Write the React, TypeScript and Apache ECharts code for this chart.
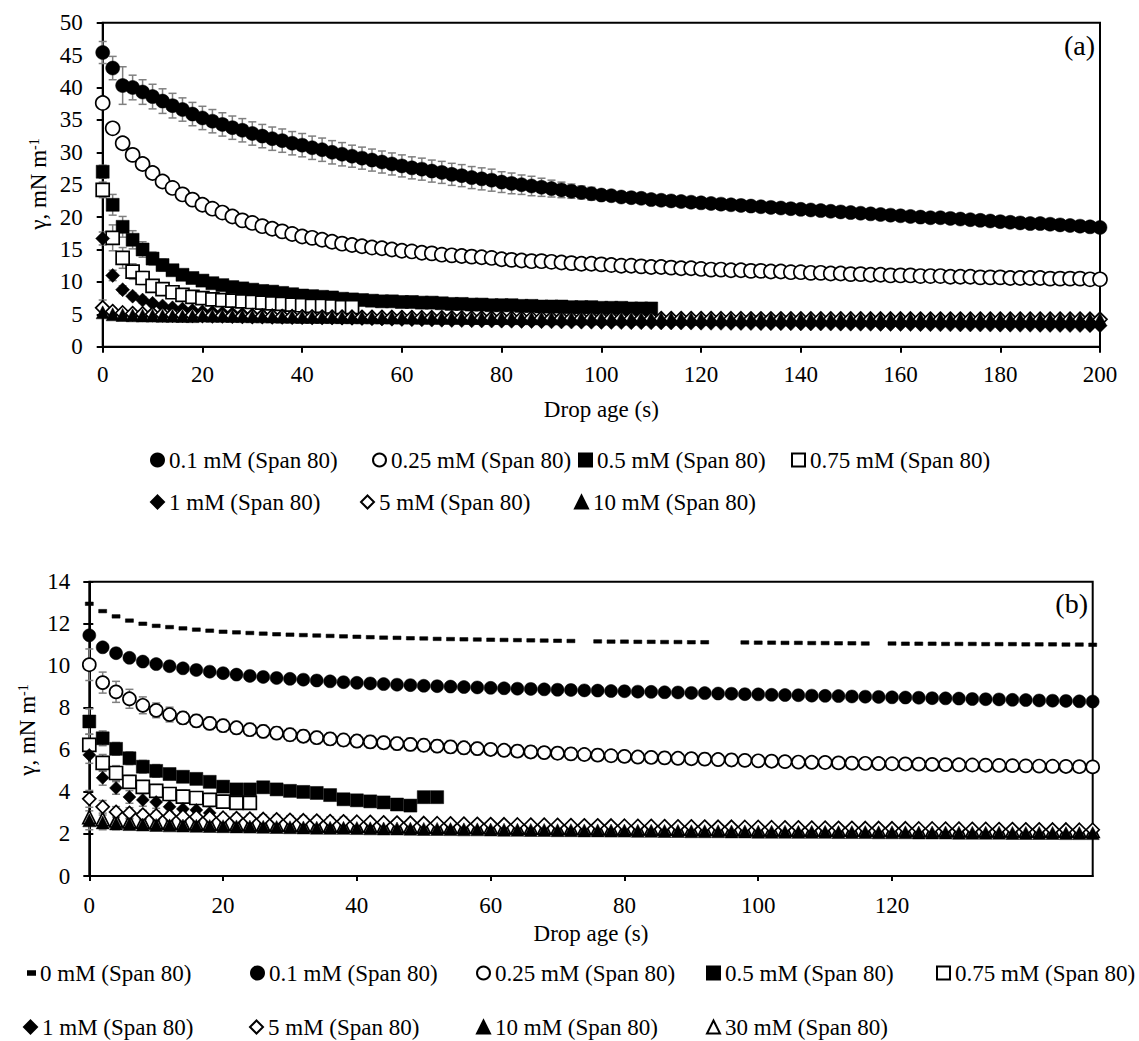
import React, { useEffect, useRef } from "react";
import * as echarts from "echarts";

const FONT = "'Liberation Serif', 'Times New Roman', Times, serif";
const ERR_COLOR = "#808080";

// ---------------- Panel (a) ----------------
const timeA = [
  0, 2, 4, 6, 8, 10, 12, 14, 16, 18,
  20, 22, 24, 26, 28, 30, 32, 34, 36, 38,
  40, 42, 44, 46, 48, 50, 52, 54, 56, 58,
  60, 62, 64, 66, 68, 70, 72, 74, 76, 78,
  80, 82, 84, 86, 88, 90, 92, 94, 96, 98,
  100, 102, 104, 106, 108, 110, 112, 114, 116, 118,
  120, 122, 124, 126, 128, 130, 132, 134, 136, 138,
  140, 142, 144, 146, 148, 150, 152, 154, 156, 158,
  160, 162, 164, 166, 168, 170, 172, 174, 176, 178,
  180, 182, 184, 186, 188, 190, 192, 194, 196, 198,
  200,
];
const xTicksA = [0, 20, 40, 60, 80, 100, 120, 140, 160, 180, 200];
const yTicksA = [0, 5, 10, 15, 20, 25, 30, 35, 40, 45, 50];

const a01 = [
  45.4, 43.0, 40.3, 40.0, 39.3, 38.6, 37.9, 37.2, 36.6, 35.9,
  35.3, 34.8, 34.3, 33.8, 33.4, 32.9, 32.5, 32.1, 31.8, 31.4,
  31.1, 30.7, 30.4, 30.0, 29.7, 29.4, 29.1, 28.8, 28.5, 28.2,
  27.9, 27.6, 27.4, 27.1, 26.9, 26.6, 26.4, 26.1, 25.9, 25.7,
  25.4, 25.2, 25.0, 24.8, 24.6, 24.4, 24.2, 24.0, 23.8, 23.6,
  23.4, 23.3, 23.1, 23.0, 22.9, 22.7, 22.6, 22.5, 22.4, 22.3,
  22.2, 22.1, 22.0, 21.9, 21.8, 21.7, 21.6, 21.5, 21.4, 21.3,
  21.2, 21.1, 21.0, 20.9, 20.8, 20.7, 20.6, 20.5, 20.4, 20.3,
  20.2, 20.1, 20.0, 19.9, 19.9, 19.8, 19.7, 19.6, 19.5, 19.4,
  19.3, 19.2, 19.1, 19.0, 19.0, 18.9, 18.8, 18.7, 18.6, 18.5,
  18.4,
];
const a025 = [
  37.6, 33.7, 31.4, 29.6, 28.2, 26.8, 25.5, 24.5, 23.5, 22.7,
  21.9, 21.3, 20.7, 20.1, 19.5, 19.1, 18.6, 18.2, 17.8, 17.4,
  17.0, 16.8, 16.5, 16.2, 15.9, 15.7, 15.5, 15.3, 15.2, 15.0,
  14.8, 14.7, 14.5, 14.4, 14.2, 14.1, 14.0, 13.9, 13.8, 13.7,
  13.5, 13.4, 13.3, 13.2, 13.2, 13.1, 13.0, 12.9, 12.8, 12.8,
  12.7, 12.6, 12.5, 12.5, 12.4, 12.3, 12.3, 12.2, 12.1, 12.1,
  12.0, 11.9, 11.9, 11.8, 11.8, 11.7, 11.7, 11.6, 11.6, 11.5,
  11.5, 11.4, 11.4, 11.3, 11.3, 11.2, 11.2, 11.1, 11.1, 11.0,
  11.0, 11.0, 10.9, 10.9, 10.9, 10.8, 10.8, 10.8, 10.7, 10.7,
  10.7, 10.6, 10.6, 10.6, 10.6, 10.5, 10.5, 10.5, 10.5, 10.4,
  10.4,
];
const a05 = [
  27.0, 21.9, 18.5, 16.5, 15.0, 13.6, 12.6, 11.8, 11.1, 10.6,
  10.2, 9.8, 9.5, 9.2, 9.0, 8.8, 8.6, 8.5, 8.3, 8.1,
  7.9, 7.8, 7.7, 7.6, 7.4, 7.3, 7.2, 7.1, 7.0, 7.0,
  6.9, 6.9, 6.8, 6.8, 6.7, 6.6, 6.6, 6.5, 6.5, 6.4,
  6.4, 6.4, 6.3, 6.3, 6.2, 6.2, 6.2, 6.1, 6.1, 6.1,
  6.0, 6.0, 6.0, 5.9, 5.9, 5.9,
];
const a075 = [
  24.2, 16.8, 13.7, 11.6, 10.6, 9.4, 8.9, 8.4, 8.0, 7.7,
  7.5, 7.3, 7.2, 7.1, 7.0, 6.9, 6.8, 6.7, 6.6, 6.5,
  6.4, 6.3, 6.3, 6.2, 6.1, 6.1,
];
const a1 = [
  16.7, 11.0, 8.8, 7.8, 7.2, 6.7, 6.3, 6.0, 5.8, 5.6,
  5.4, 5.3, 5.2, 5.1, 5.0, 4.9, 4.85, 4.8, 4.75, 4.7,
  4.65, 4.6, 4.55, 4.5, 4.45, 4.4, 4.36, 4.32, 4.28, 4.24,
  4.2, 4.17, 4.14, 4.11, 4.08, 4.05, 4.03, 4.0, 3.98, 3.96,
  3.94, 3.92, 3.9, 3.88, 3.86, 3.84, 3.82, 3.8, 3.78, 3.77,
  3.75, 3.74, 3.72, 3.71, 3.7, 3.68, 3.67, 3.66, 3.65, 3.64,
  3.62, 3.61, 3.6, 3.59, 3.58, 3.57, 3.56, 3.55, 3.54, 3.53,
  3.52, 3.51, 3.5, 3.49, 3.48, 3.47, 3.46, 3.45, 3.44, 3.43,
  3.42, 3.41, 3.4, 3.39, 3.38, 3.37, 3.36, 3.35, 3.34, 3.33,
  3.32, 3.31, 3.3, 3.3, 3.29, 3.28, 3.27, 3.26, 3.26, 3.25,
  3.25,
];
const a5 = [
  6.0, 5.4, 5.2, 5.1, 5.05, 5.0, 4.97, 4.94, 4.91, 4.88,
  4.85, 4.82, 4.79, 4.76, 4.73, 4.7, 4.68, 4.66, 4.64, 4.62,
  4.6, 4.58, 4.57, 4.56, 4.55, 4.54, 4.53, 4.52, 4.51, 4.5,
  4.49, 4.48, 4.47, 4.46, 4.45, 4.45, 4.44, 4.43, 4.42, 4.42,
  4.41, 4.4, 4.4, 4.39, 4.39, 4.38, 4.38, 4.37, 4.37, 4.36,
  4.36, 4.35, 4.35, 4.35, 4.34, 4.34, 4.33, 4.33, 4.33, 4.32,
  4.32, 4.32, 4.31, 4.31, 4.31, 4.3, 4.3, 4.3, 4.3, 4.29,
  4.29, 4.29, 4.29, 4.28, 4.28, 4.28, 4.28, 4.27, 4.27, 4.27,
  4.27, 4.27, 4.26, 4.26, 4.26, 4.26, 4.26, 4.25, 4.25, 4.25,
  4.25, 4.25, 4.25, 4.24, 4.24, 4.24, 4.24, 4.24, 4.24, 4.23,
  4.23,
];
const a10 = [
  5.3, 5.0, 4.9, 4.85, 4.82, 4.8, 4.78, 4.76, 4.74, 4.72,
  4.8, 4.78, 4.76, 4.74, 4.72, 4.7, 4.68, 4.66, 4.64, 4.62,
  4.6, 4.59, 4.58, 4.57, 4.56, 4.55, 4.54, 4.53, 4.52, 4.51,
  4.5, 4.49, 4.48, 4.47, 4.46, 4.46, 4.45, 4.44, 4.43, 4.43,
  4.42, 4.41, 4.41, 4.4, 4.4, 4.39, 4.39, 4.38, 4.38, 4.37,
  4.37, 4.36, 4.36, 4.36, 4.35, 4.35, 4.34, 4.34, 4.34, 4.33,
  4.33, 4.33, 4.32, 4.32, 4.32, 4.31, 4.31, 4.31, 4.31, 4.3,
  4.3, 4.3, 4.3, 4.29, 4.29, 4.29, 4.29, 4.28, 4.28, 4.28,
  4.28, 4.28, 4.27, 4.27, 4.27, 4.27, 4.27, 4.26, 4.26, 4.26,
  4.26, 4.26, 4.26, 4.25, 4.25, 4.25, 4.25, 4.25, 4.25, 4.24,
  4.24,
];
// error bars (+/-), panel (a)
const eA01 = [
  1.7, 1.8, 2.9, 1.9, 1.9, 1.9, 1.9, 1.9, 1.8, 1.8,
  1.8, 1.8, 1.8, 1.8, 1.8, 1.8, 1.8, 1.8, 1.8, 1.8,
  1.8, 1.8, 1.8, 1.8, 1.8, 1.7, 1.7, 1.7, 1.7, 1.7,
  1.7, 1.7, 1.7, 1.7, 1.7, 1.7, 1.7, 1.7, 1.7, 1.7,
  1.6, 1.6, 1.5, 1.5, 1.4, 1.3, 1.2, 1.1, 1.0, 1.0,
];
const eA05 = [1.0, 1.6, 1.6, 1.4, 1.2, 1.0, 0.9, 0.8, 0.7, 0.7, 0.6, 0.6, 0.5, 0.5, 0.5, 0.5, 0.5, 0.5, 0.5, 0.5];
const eA075 = [1.2, 2.0, 1.6, 1.2, 1.0, 0.8, 0.7, 0.6, 0.6, 0.5, 0.5, 0.5, 0.5, 0.5, 0.5, 0.5, 0.5, 0.5, 0.5, 0.5, 0.5, 0.5, 0.5, 0.5, 0.5, 0.5];
const eA1 = [1.0, 0.8, 0.6, 0.5, 0.5, 0.4, 0.4, 0.4, 0.4, 0.4];
const eA5 = [1.2, 0.6, 0.5, 0.4, 0.4];
const eA10 = [0.5, 0.4, 0.3, 0.3, 0.3];

// ---------------- Panel (b) ----------------
const timeB = [
  0, 2, 4, 6, 8, 10, 12, 14, 16, 18,
  20, 22, 24, 26, 28, 30, 32, 34, 36, 38,
  40, 42, 44, 46, 48, 50, 52, 54, 56, 58,
  60, 62, 64, 66, 68, 70, 72, 74, 76, 78,
  80, 82, 84, 86, 88, 90, 92, 94, 96, 98,
  100, 102, 104, 106, 108, 110, 112, 114, 116, 118,
  120, 122, 124, 126, 128, 130, 132, 134, 136, 138,
  140, 142, 144, 146, 148, 150,
];
const xTicksB = [0, 20, 40, 60, 80, 100, 120, 140];
const yTicksB = [0, 2, 4, 6, 8, 10, 12, 14];

const b0 = [
  12.95, 12.6, 12.35, 12.15, 12.0, 11.9, 11.84, 11.78, 11.72, 11.67,
  11.62, 11.59, 11.56, 11.53, 11.5, 11.48, 11.46, 11.44, 11.42, 11.4,
  11.38, 11.36, 11.34, 11.33, 11.31, 11.3, 11.28, 11.27, 11.26, 11.25,
  11.24, 11.23, 11.22, 11.21, 11.2, 11.19, 11.18, null, 11.16, 11.15,
  11.15, 11.14, 11.14, 11.13, 11.13, 11.12, 11.12, null, null, 11.11,
  11.1, 11.1, 11.09, 11.09, 11.08, 11.08, 11.07, 11.07, 11.06, null,
  11.06, 11.05, 11.05, 11.05, 11.04, 11.04, 11.04, 11.03, 11.03, 11.03,
  11.02, 11.02, 11.02, 11.01, 11.01, 11.0,
];
const b01 = [
  11.45, 10.88, 10.6, 10.38, 10.2, 10.08, 9.98, 9.88, 9.8, 9.72,
  9.65, 9.58, 9.52, 9.47, 9.42, 9.38, 9.34, 9.3, 9.26, 9.22,
  9.19, 9.16, 9.13, 9.1, 9.08, 9.05, 9.03, 9.01, 8.99, 8.97,
  8.95, 8.93, 8.91, 8.9, 8.88, 8.86, 8.85, 8.83, 8.82, 8.8,
  8.79, 8.77, 8.76, 8.74, 8.73, 8.71, 8.7, 8.68, 8.67, 8.65,
  8.64, 8.62, 8.61, 8.6, 8.58, 8.57, 8.56, 8.54, 8.53, 8.52,
  8.5, 8.49, 8.48, 8.46, 8.45, 8.44, 8.42, 8.41, 8.4, 8.38,
  8.37, 8.35, 8.34, 8.33, 8.31, 8.3,
];
const b025 = [
  10.05, 9.2, 8.76, 8.43, 8.12, 7.88, 7.68, 7.52, 7.38, 7.26,
  7.15, 7.05, 6.96, 6.88, 6.8, 6.72, 6.65, 6.58, 6.52, 6.47,
  6.42, 6.38, 6.34, 6.3, 6.26, 6.22, 6.18, 6.14, 6.1, 6.06,
  6.02, 5.98, 5.94, 5.9, 5.87, 5.84, 5.81, 5.78, 5.75, 5.72,
  5.69, 5.66, 5.64, 5.62, 5.6, 5.58, 5.56, 5.54, 5.52, 5.5,
  5.48, 5.46, 5.44, 5.42, 5.41, 5.4, 5.38, 5.37, 5.36, 5.35,
  5.34, 5.33, 5.32, 5.31, 5.3, 5.29, 5.28, 5.27, 5.26, 5.25,
  5.24, 5.23, 5.22, 5.21, 5.2, 5.19,
];
const b05 = [
  7.35, 6.55, 6.05, 5.6, 5.2, 5.0, 4.85, 4.72, 4.62, 4.48,
  4.25, 4.12, 4.12, 4.22, 4.12, 4.05, 4.0, 3.95, 3.85, 3.65,
  3.6, 3.55, 3.5, 3.4, 3.35, 3.75, 3.75,
];
const b075 = [6.24, 5.38, 4.9, 4.48, 4.24, 4.05, 3.9, 3.78, 3.71, 3.62, 3.54, 3.48, 3.48];
const b1 = [5.76, 4.67, 4.19, 3.76, 3.62, 3.52, 3.29, 3.19, 3.14, 3.0];
const b5 = [
  3.67, 3.29, 3.05, 3.0, 2.92, 2.88, 2.85, 2.83, 2.81, 2.79,
  2.77, 2.75, 2.73, 2.71, 2.69, 2.67, 2.65, 2.63, 2.61, 2.6,
  2.58, 2.57, 2.55, 2.54, 2.53, 2.52, 2.51, 2.5, 2.49, 2.48,
  2.47, 2.46, 2.45, 2.44, 2.44, 2.43, 2.42, 2.41, 2.41, 2.4,
  2.39, 2.38, 2.38, 2.37, 2.36, 2.36, 2.35, 2.34, 2.34, 2.33,
  2.33, 2.32, 2.31, 2.31, 2.3, 2.3, 2.29, 2.29, 2.28, 2.28,
  2.27, 2.27, 2.26, 2.26, 2.25, 2.25, 2.24, 2.24, 2.23, 2.23,
  2.22, 2.22, 2.21, 2.21, 2.2, 2.2,
];
const b10 = [
  2.65, 2.55, 2.5, 2.47, 2.45, 2.43, 2.41, 2.4, 2.39, 2.38,
  2.37, 2.36, 2.35, 2.34, 2.33, 2.32, 2.31, 2.3, 2.29, 2.29,
  2.28, 2.27, 2.26, 2.26, 2.25, 2.24, 2.24, 2.23, 2.22, 2.22,
  2.21, 2.2, 2.2, 2.19, 2.19, 2.18, 2.18, 2.17, 2.17, 2.16,
  2.16, 2.15, 2.15, 2.14, 2.14, 2.13, 2.13, 2.13, 2.12, 2.12,
  2.11, 2.11, 2.11, 2.1, 2.1, 2.1, 2.09, 2.09, 2.09, 2.08,
  2.08, 2.08, 2.07, 2.07, 2.07, 2.06, 2.06, 2.06, 2.06, 2.05,
  2.05, 2.05, 2.05, 2.04, 2.04, 2.04,
];
const b30 = [
  2.8, 2.7, 2.64, 2.6, 2.57, 2.55, 2.53, 2.52, 2.5, 2.49,
  2.48, 2.47, 2.46, 2.45, 2.44, 2.43, 2.42, 2.41, 2.4, 2.4,
  2.39, 2.38, 2.37, 2.37, 2.36, 2.35, 2.35, 2.34, 2.33, 2.33,
  2.32, 2.31, 2.31, 2.3, 2.3, 2.29, 2.29, 2.28, 2.28, 2.27,
  2.27, 2.26, 2.26, 2.25, 2.25, 2.24, 2.24, 2.24, 2.23, 2.23,
  2.22, 2.22, 2.22, 2.21, 2.21, 2.21, 2.2, 2.2, 2.2, 2.19,
  2.19, 2.19, 2.18, 2.18, 2.18, 2.18, 2.17, 2.17, 2.17, 2.17,
  2.16, 2.16, 2.16, 2.16, 2.15, 2.15,
];
// error bars (+/-), panel (b)
const eB025 = [
  0.75, 0.5, 0.5, 0.45, 0.4, 0.35, 0.35, 0.3, 0.3, 0.3,
  0.3, 0.3, 0.3, 0.3, 0.3, 0.3, 0.3, 0.3, 0.3, 0.3,
  0.3, 0.3, 0.3, 0.3, 0.3, 0.3, 0.3, 0.3, 0.3, 0.3,
  0.28, 0.28, 0.28, 0.28, 0.28, 0.28, 0.28, 0.28, 0.28, 0.28,
  0.28, 0.28, 0.28, 0.28, 0.28, 0.28, 0.28, 0.28, 0.28, 0.28,
  0.25, 0.25, 0.25, 0.25, 0.25, 0.25, 0.25, 0.25, 0.25, 0.25,
  0.25, 0.25, 0.25, 0.25,
];
const eB05 = [0.6, 0.35, 0.3, 0.3, 0.3, 0.3, 0.25, 0.25, 0.25, 0.25, 0.25, 0.25, 0.25, 0.25, 0.25, 0.25, 0.25, 0.25, 0.25, 0.25, 0.25, 0.25, 0.25, 0.25, 0.25, 0.25, 0.25];
const eB075 = [0.5, 0.4, 0.35, 0.3, 0.3, 0.3, 0.3, 0.3, 0.3, 0.3, 0.3, 0.3, 0.3];
const eB1 = [0.4, 0.35, 0.3, 0.3, 0.3, 0.3, 0.3, 0.3, 0.3, 0.3];
const eB5 = [0.4, 0.3, 0.25, 0.25, 0.2, 0.2, 0.2, 0.2, 0.2, 0.2, 0.2, 0.2, 0.2, 0.2, 0.2, 0.2, 0.2, 0.2, 0.2, 0.2];
const eB10 = [0.45, 0.35, 0.3, 0.25, 0.25, 0.2, 0.2, 0.2, 0.2, 0.2, 0.2, 0.2, 0.2, 0.2, 0.2, 0.2, 0.2, 0.2, 0.2, 0.2];

// series names
const N0 = "0 mM (Span 80)";
const N01 = "0.1 mM (Span 80)";
const N025 = "0.25 mM (Span 80)";
const N05 = "0.5 mM (Span 80)";
const N075 = "0.75 mM (Span 80)";
const N1 = "1 mM (Span 80)";
const N5 = "5 mM (Span 80)";
const N10 = "10 mM (Span 80)";
const N30 = "30 mM (Span 80)";

type Num = number | null;

const pts = (t: number[], v: Num[]) =>
  v.map((y, i) => [t[i], y]).filter((p) => p[1] !== null);
const errPts = (t: number[], v: Num[], e: number[]) =>
  e.map((err, i) => [t[i], v[i], err]).filter((p) => p[1] !== null && (p[2] as number) > 0);

const FILLED = { color: "#000", borderColor: "#000", borderWidth: 0.5, opacity: 1 };
const OPEN = { color: "#fff", borderColor: "#000", borderWidth: 1.7, opacity: 1 };

function scatter(name: string, g: number, symbol: string, filled: boolean, data: any[], size: any = 13) {
  return {
    name,
    type: "scatter",
    xAxisIndex: g,
    yAxisIndex: g,
    symbol,
    symbolSize: size,
    clip: false,
    silent: true,
    itemStyle: filled ? FILLED : OPEN,
    emphasis: { disabled: true },
    data,
  };
}

function errorBars(g: number, data: any[]) {
  return {
    type: "custom",
    xAxisIndex: g,
    yAxisIndex: g,
    clip: false,
    silent: true,
    data,
    renderItem: (params: any, api: any) => {
      const x = api.value(0);
      const y = api.value(1);
      const e = api.value(2);
      const p1 = api.coord([x, y + e]);
      const p2 = api.coord([x, y - e]);
      const st = { stroke: ERR_COLOR, lineWidth: 1.5 };
      const hw = 4;
      return {
        type: "group",
        children: [
          { type: "line", shape: { x1: p1[0], y1: p1[1], x2: p2[0], y2: p2[1] }, style: st },
          { type: "line", shape: { x1: p1[0] - hw, y1: p1[1], x2: p1[0] + hw, y2: p1[1] }, style: st },
          { type: "line", shape: { x1: p2[0] - hw, y1: p2[1], x2: p2[0] + hw, y2: p2[1] }, style: st },
        ],
      };
    },
  };
}

// legend placement (icon left, row centre y)
const legendItems: { name: string; left: number; y: number; w?: number; h?: number }[] = [
  { name: N01, left: 150, y: 460 },
  { name: N025, left: 372, y: 460 },
  { name: N05, left: 578, y: 460 },
  { name: N075, left: 791, y: 460 },
  { name: N1, left: 150, y: 502 },
  { name: N5, left: 360, y: 502 },
  { name: N10, left: 574, y: 502 },
  { name: N0, left: 27, y: 973, w: 7, h: 3.5 },
  { name: N01, left: 250, y: 973 },
  { name: N025, left: 476, y: 973 },
  { name: N05, left: 706, y: 973 },
  { name: N075, left: 936, y: 973 },
  { name: N1, left: 23, y: 1027 },
  { name: N5, left: 249, y: 1027 },
  { name: N10, left: 476, y: 1027 },
  { name: N30, left: 706, y: 1027 },
];

const TXT = { color: "#000", fontFamily: FONT, fontSize: 23 };
const LINE = { color: "#000", width: 2 };

const Y_NAME = "{a|γ, mN m}{s|-1}";
const yNameText = (x: number, y: number) => ({
  type: "text",
  x,
  y,
  rotation: Math.PI / 2,
  style: {
    text: Y_NAME,
    fill: "#000",
    align: "center",
    verticalAlign: "middle",
    rich: {
      a: { fill: "#000", fontFamily: FONT, fontSize: 23 },
      s: { fill: "#000", fontFamily: FONT, fontSize: 14, verticalAlign: "top" },
    },
  },
});

const option: any = {
  animation: false,
  backgroundColor: "#fff",
  textStyle: { fontFamily: FONT },
  grid: [
    { left: 102.7, top: 22.7, width: 997.3, height: 324, show: true, borderColor: "#000", borderWidth: 2, outerBoundsMode: "none", containLabel: false },
    { left: 89.3, top: 581.7, width: 1003.4, height: 294.3, show: true, borderColor: "#000", borderWidth: 2, outerBoundsMode: "none", containLabel: false },
  ],
  xAxis: [
    {
      type: "value", gridIndex: 0, min: xTicksA[0], max: xTicksA[xTicksA.length - 1], interval: 20,
      axisLine: { show: true, onZero: false, lineStyle: LINE },
      axisTick: { show: true, inside: false, length: 6, lineStyle: LINE },
      axisLabel: { ...TXT, margin: 16 },
      splitLine: { show: false },
      name: "Drop age (s)", nameLocation: "middle", nameGap: 51, nameTextStyle: TXT, nameMoveOverlap: false,
    },
    {
      type: "value", gridIndex: 1, min: 0, max: 150, interval: 20,
      axisLine: { show: true, onZero: false, lineStyle: LINE },
      axisTick: { show: true, inside: false, length: 5, lineStyle: LINE, customValues: xTicksB },
      axisLabel: { ...TXT, margin: 18, customValues: xTicksB, showMaxLabel: false },
      splitLine: { show: false },
      name: "Drop age (s)", nameLocation: "middle", nameGap: 46, nameTextStyle: TXT, nameMoveOverlap: false,
    },
  ],
  yAxis: [
    {
      type: "value", gridIndex: 0, min: yTicksA[0], max: yTicksA[yTicksA.length - 1], interval: 5,
      axisLine: { show: true, onZero: false, lineStyle: LINE },
      axisTick: { show: true, inside: false, length: 6, lineStyle: LINE },
      axisLabel: { ...TXT, margin: 20 },
      splitLine: { show: false },
    },
    {
      type: "value", gridIndex: 1, min: yTicksB[0], max: yTicksB[yTicksB.length - 1], interval: 2,
      axisLine: { show: true, onZero: false, lineStyle: LINE },
      axisTick: { show: true, inside: false, length: 6, lineStyle: LINE },
      axisLabel: { ...TXT, margin: 19 },
      splitLine: { show: false },
    },
    {
      type: "value", gridIndex: 1, position: "left", min: 0, max: 14, interval: 2,
      axisLine: { show: false },
      axisTick: { show: true, inside: true, length: 4, lineStyle: LINE },
      axisLabel: { show: false },
      splitLine: { show: false },
    },
  ],
  legend: legendItems.map((it) => ({
    data: [it.name],
    left: it.left,
    top: it.y - 11.5,
    orient: "horizontal",
    padding: 0,
    itemGap: 0,
    itemWidth: it.w ?? 13,
    itemHeight: it.h ?? 13,
    selectedMode: false,
    textStyle: TXT,
  })),
  graphic: [
    yNameText(38.5, 184),
    yNameText(27.5, 730),
    { type: "text", x: 1095, y: 45, style: { text: "(a)", fill: "#000", font: `28px ${FONT}`, align: "right", verticalAlign: "middle" } },
    { type: "text", x: 1088, y: 603, style: { text: "(b)", fill: "#000", font: `28px ${FONT}`, align: "right", verticalAlign: "middle" } },
  ],
  series: [
    // panel (a)
    scatter(N01, 0, "circle", true, pts(timeA, a01), 14),
    errorBars(0, errPts(timeA, a01, eA01)),
    scatter(N025, 0, "circle", false, pts(timeA, a025), 14),
    scatter(N05, 0, "rect", true, pts(timeA, a05)),
    errorBars(0, errPts(timeA, a05, eA05)),
    scatter(N075, 0, "rect", false, pts(timeA, a075)),
    errorBars(0, errPts(timeA, a075, eA075)),
    scatter(N1, 0, "diamond", true, pts(timeA, a1), 14),
    errorBars(0, errPts(timeA, a1, eA1)),
    scatter(N5, 0, "diamond", false, pts(timeA, a5), 14),
    errorBars(0, errPts(timeA, a5, eA5)),
    scatter(N10, 0, "triangle", true, pts(timeA, a10)),
    errorBars(0, errPts(timeA, a10, eA10)),
    // panel (b)
    scatter(N30, 1, "triangle", false, pts(timeB, b30)),
    scatter(N0, 1, "rect", true, pts(timeB, b0), [8, 3.5]),
    scatter(N01, 1, "circle", true, pts(timeB, b01)),
    scatter(N025, 1, "circle", false, pts(timeB, b025)),
    errorBars(1, errPts(timeB, b025, eB025)),
    scatter(N05, 1, "rect", true, pts(timeB, b05)),
    errorBars(1, errPts(timeB, b05, eB05)),
    scatter(N075, 1, "rect", false, pts(timeB, b075)),
    errorBars(1, errPts(timeB, b075, eB075)),
    scatter(N1, 1, "diamond", true, pts(timeB, b1)),
    errorBars(1, errPts(timeB, b1, eB1)),
    scatter(N5, 1, "diamond", false, pts(timeB, b5)),
    errorBars(1, errPts(timeB, b5, eB5)),
    scatter(N10, 1, "triangle", true, pts(timeB, b10)),
    errorBars(1, errPts(timeB, b10, eB10)),
  ],
};

export default function App() {
  const ref = useRef<HTMLDivElement>(null);
  useEffect(() => {
    if (!ref.current) return;
    const chart = echarts.init(ref.current, null, { renderer: "svg" });
    chart.setOption(option);
    return () => {
      chart.dispose();
    };
  }, []);
  return (
    <div
      ref={ref}
      style={{ position: "fixed", left: 0, top: 0, width: 1139, height: 1041, background: "#fff" }}
    />
  );
}
